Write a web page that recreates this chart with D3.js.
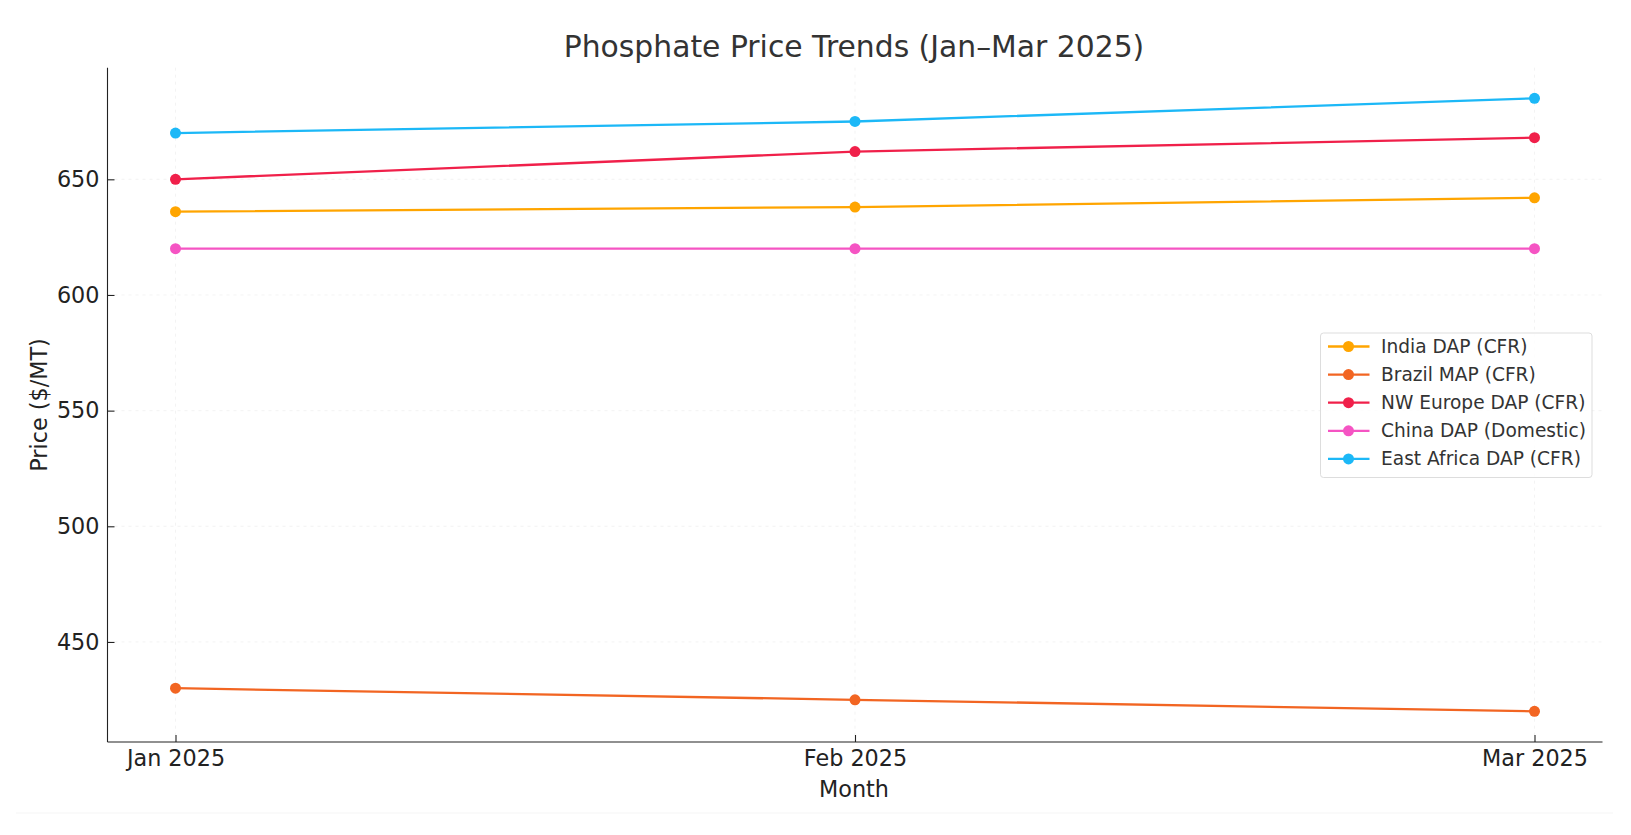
<!DOCTYPE html>
<html>

<head>
    <title>Phosphate Price Trends</title>
    <script src="https://d3js.org/d3.v7.min.js"></script>
    <style>
        html, body {
            margin: 0;
            padding: 0;
            overflow: hidden;
            background: #fff;
            font-family: "DejaVu Sans", sans-serif;
        }

        svg {
            display: block;
        }

        .grid line {
            stroke: #f0f0f0;
            stroke-dasharray: 3, 4;
            stroke-width: 0.8;
        }

        .axis text {
            font-size: 22.3px;
            fill: #222;
            font-family: "DejaVu Sans", sans-serif;
        }

        .axis path,
        .axis line {
            stroke: #222;
            stroke-width: 1.1;
        }

        .line {
            fill: none;
            stroke-width: 2.3;
        }
    </style>
</head>

<body>
<script>
    var w = 1631;
    var h = 835;

    // data
    var months = ["Jan 2025", "Feb 2025", "Mar 2025"];
    var seriesNames = ["India DAP (CFR)", "Brazil MAP (CFR)", "NW Europe DAP (CFR)", "China DAP (Domestic)", "East Africa DAP (CFR)"];
    var india = [636, 638, 642];
    var brazil = [430, 425, 420];
    var nwEurope = [650, 662, 668];
    var china = [620, 620, 620];
    var eastAfrica = [670, 675, 685];
    var yTicks = [450, 500, 550, 600, 650];

    var colors = ["#ffa500", "#f26522", "#f0204a", "#f554c3", "#1cb8f7"];

    var series = [india, brazil, nwEurope, china, eastAfrica].map(function (vals, i) {
        return { name: seriesNames[i], values: vals, color: colors[i] };
    });

    var plotLeft = 107.5, plotRight = 1602.5, plotTop = 67.7, plotBottom = 742;

    var x = d3.scalePoint().domain(months).range([175.5, 1534.5]);

    var allVals = [].concat(india, brazil, nwEurope, china, eastAfrica);
    var ext = d3.extent(allVals);
    var pad = (ext[1] - ext[0]) * 0.05;
    var y = d3.scaleLinear().domain([ext[0] - pad, ext[1] + pad]).range([plotBottom, plotTop]);

    var svg = d3.select("body")
        .append("svg")
        .attr("width", w)
        .attr("height", h);

    // faint frame line at bottom
    svg.append("line")
        .attr("x1", 16).attr("x2", 1613)
        .attr("y1", 813).attr("y2", 813)
        .attr("stroke", "#f5f5f5");

    // grid
    var grid = svg.append("g").attr("class", "grid");
    grid.selectAll(".hg")
        .data(yTicks)
        .enter()
        .append("line")
        .attr("x1", plotLeft).attr("x2", plotRight)
        .attr("y1", function (d) { return y(d); })
        .attr("y2", function (d) { return y(d); });
    grid.selectAll(".vg")
        .data(months)
        .enter()
        .append("line")
        .attr("y1", plotTop).attr("y2", plotBottom)
        .attr("x1", function (d) { return x(d); })
        .attr("x2", function (d) { return x(d); });

    // axes (ticks point inward)
    svg.append("g")
        .attr("class", "axis")
        .attr("transform", "translate(0," + plotBottom + ")")
        .call(d3.axisBottom(x).tickSize(-7).tickPadding(8).tickSizeOuter(0))
        .call(function (g) {
            g.select(".domain").attr("d", "M" + plotLeft + ",0H" + plotRight);
        });

    svg.append("g")
        .attr("class", "axis")
        .attr("transform", "translate(" + plotLeft + ",0)")
        .call(d3.axisLeft(y).tickValues(yTicks).tickSize(-7).tickPadding(8).tickSizeOuter(0))
        .call(function (g) {
            g.select(".domain").attr("d", "M0," + plotTop + "V" + plotBottom);
        });

    // lines
    var line = d3.line()
        .x(function (d, i) { return x(months[i]); })
        .y(function (d) { return y(d); });

    var groups = svg.selectAll(".series")
        .data(series)
        .enter()
        .append("g")
        .attr("class", "series");

    groups.append("path")
        .attr("class", "line")
        .attr("stroke", function (d) { return d.color; })
        .attr("d", function (d) { return line(d.values); });

    groups.selectAll("circle")
        .data(function (d) {
            return d.values.map(function (v, i) { return { v: v, i: i, color: d.color }; });
        })
        .enter()
        .append("circle")
        .attr("cx", function (d) { return x(months[d.i]); })
        .attr("cy", function (d) { return y(d.v); })
        .attr("r", 5.5)
        .attr("fill", function (d) { return d.color; });

    // titles
    svg.append("text")
        .attr("x", 854).attr("y", 57)
        .attr("text-anchor", "middle")
        .style("font-size", "29.8px")
        .style("fill", "#333")
        .text("Phosphate Price Trends (Jan\u2013Mar 2025)");

    svg.append("text")
        .attr("x", 854).attr("y", 797)
        .attr("text-anchor", "middle")
        .style("font-size", "22.3px")
        .style("fill", "#222")
        .text("Month");

    svg.append("text")
        .attr("transform", "translate(46.5,405) rotate(-90)")
        .attr("text-anchor", "middle")
        .style("font-size", "22.3px")
        .style("fill", "#222")
        .text("Price ($/MT)");

    // legend
    var legend = svg.append("g").attr("transform", "translate(1320.5,333)");
    legend.append("rect")
        .attr("width", 271.5).attr("height", 144.5)
        .attr("rx", 3)
        .attr("fill", "#fff")
        .attr("fill-opacity", 0.8)
        .attr("stroke", "#ddd");

    var items = legend.selectAll(".item")
        .data(series)
        .enter()
        .append("g")
        .attr("transform", function (d, i) { return "translate(0," + (13.5 + i * 28.1) + ")"; });

    items.append("line")
        .attr("x1", 7.5).attr("x2", 49)
        .attr("stroke", function (d) { return d.color; })
        .attr("stroke-width", 2.3);
    items.append("circle")
        .attr("cx", 28).attr("r", 5.5)
        .attr("fill", function (d) { return d.color; });
    items.append("text")
        .attr("x", 60.5).attr("dy", "0.35em")
        .style("font-size", "18.6px")
        .style("fill", "#333")
        .text(function (d) { return d.name; });
</script>
</body>

</html>
